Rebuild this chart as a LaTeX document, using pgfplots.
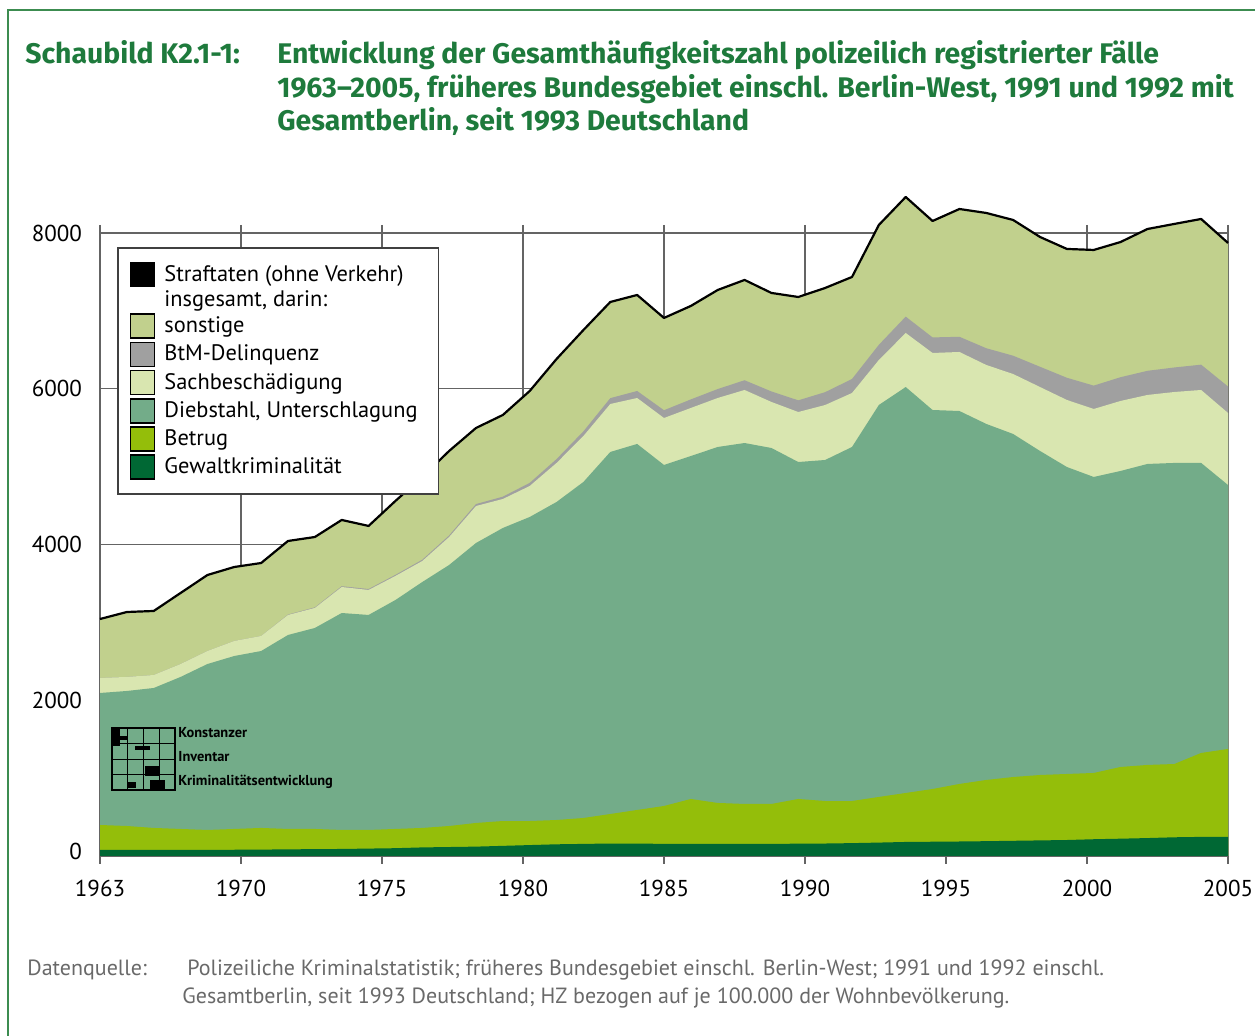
\documentclass[border=0pt]{standalone}
\usepackage{fontspec}
\setmainfont{PT Sans}
\newfontfamily\titlefont{Fira Sans}
\usepackage{pgfplots}
\usepackage{pgfplotstable}
\pgfplotsset{compat=1.18}

\definecolor{cSonst}{RGB}{193,208,141}
\definecolor{cBtm}{RGB}{160,160,160}
\definecolor{cSach}{RGB}{217,230,176}
\definecolor{cDieb}{RGB}{115,172,137}
\definecolor{cBetr}{RGB}{148,190,10}
\definecolor{cGew}{RGB}{0,104,52}
\definecolor{cTitle}{RGB}{30,122,60}
\definecolor{cFrame}{RGB}{60,140,80}
\definecolor{cGrid}{RGB}{100,100,100}
\definecolor{cFoot}{RGB}{105,105,105}

% cumulative upper boundaries of the stacked areas (HZ)
\pgfplotstableread{
year total btm sach dieb betrug gewalt
1963 3043 2286 2286 2093 398 80
1964 3133 2299 2299 2119 385 80
1965 3146 2324 2324 2157 360 80
1966 3377 2465 2465 2299 347 80
1967 3608 2632 2632 2465 334 80
1968 3711 2761 2761 2568 347 80
1969 3762 2825 2825 2632 360 82
1970 4045 3100 3095 2838 347 85
1971 4096 3193 3185 2928 347 88
1972 4315 3464 3454 3120 334 90
1973 4238 3428 3416 3095 334 95
1974 4559 3610 3596 3287 347 100
1975 4867 3804 3788 3518 360 110
1976 5201 4116 4096 3737 385 115
1977 5496 4519 4494 4019 424 120
1978 5663 4614 4584 4212 449 130
1979 5971 4791 4751 4353 449 140
1980 6382 5097 5047 4546 462 150
1981 6754 5453 5393 4803 488 155
1982 7114 5879 5804 5188 539 160
1983 7204 5971 5881 5291 591 160
1984 6909 5724 5624 5021 642 155
1985 7063 5863 5753 5136 732 155
1986 7268 5996 5881 5252 681 155
1987 7397 6109 5984 5303 668 155
1988 7230 5965 5830 5239 668 155
1989 7178 5851 5701 5059 732 158
1990 7294 5956 5791 5085 706 160
1991 7435 6125 5945 5252 706 165
1992 8103 6564 6369 5791 758 172
1993 8462 6926 6716 6022 809 180
1994 8154 6659 6459 5727 860 183
1995 8308 6667 6472 5714 925 186
1996 8257 6520 6305 5548 976 190
1997 8167 6424 6189 5419 1014 195
1998 7949 6282 6022 5201 1040 200
1999 7795 6141 5856 4995 1053 205
2000 7782 6040 5740 4867 1066 215
2001 7884 6148 5843 4944 1143 222
2002 8051 6230 5920 5034 1169 230
2003 8116 6273 5958 5047 1181 240
2004 8180 6309 5984 5047 1323 245
2005 7872 6029 5689 4764 1374 245
}\datatable

\begin{document}
\begin{tikzpicture}
\path[use as bounding box] (0,0) rectangle (627.5pt,518pt);

\begin{axis}[
  at={(50pt,90pt)}, anchor=south west,
  scale only axis, width=564pt, height=311.5pt,
  xmin=1963, xmax=2005, ymin=0, ymax=8000,
  clip=false,
  axis line style={cGrid, line width=0.75pt},
  grid=major, major grid style={cGrid, line width=0.75pt},
  xtick={1963,1968.25,1973.5,1978.75,1984,1989.25,1994.5,1999.75,2005},
  xticklabels={1963,1970,1975,1980,1985,1990,1995,2000,2005},
  ytick={0,2000,4000,6000,8000},
  yticklabels={\raisebox{5pt}{0},2000,4000,6000,8000},
  tick align=outside, major tick length=4pt,
  xtick style={cGrid, line width=0.75pt},
  ytick style={draw=none},
  tick label style={font=\fontsize{11.5}{13}\selectfont},
  xticklabel style={yshift=-4.5pt},
  yticklabel style={xshift=-1.5pt},
  legend cell align=left,
  legend image code/.code={\fill[#1] (0pt,-6pt) rectangle (12pt,6pt);},
  legend style={at={(0.0151,0.9775)}, anchor=north west,
    draw=black!75, line width=0.8pt, fill=white,
    font=\fontsize{11.2}{13}\selectfont,
    inner xsep=6pt, inner ysep=7pt, row sep=1.3pt,
    nodes={inner ysep=0.5pt, inner xsep=4.5pt}},
]
\addplot[fill=cSonst, draw=none, forget plot] table[x=year,y=total]{\datatable} \closedcycle;
\addplot[fill=cBtm, draw=none, forget plot] table[x=year,y=btm]{\datatable} \closedcycle;
\addplot[fill=cSach, draw=none, forget plot] table[x=year,y=sach]{\datatable} \closedcycle;
\addplot[fill=cDieb, draw=none, forget plot] table[x=year,y=dieb]{\datatable} \closedcycle;
\addplot[fill=cBetr, draw=none, forget plot] table[x=year,y=betrug]{\datatable} \closedcycle;
\addplot[fill=cGew, draw=none, forget plot] table[x=year,y=gewalt]{\datatable} \closedcycle;
\addplot[black, line width=1.1pt, line join=round, forget plot] table[x=year,y=total]{\datatable};

\addlegendimage{fill=black}
\addlegendentry{Straftaten (ohne Verkehr)}
\addlegendimage{empty legend}
\addlegendentry{insgesamt, darin:}
\addlegendimage{fill=cSonst}
\addlegendentry{sonstige}
\addlegendimage{fill=cBtm}
\addlegendentry{BtM-Delinquenz}
\addlegendimage{fill=cSach}
\addlegendentry{Sachbeschädigung}
\addlegendimage{fill=cDieb}
\addlegendentry{Diebstahl, Unterschlagung}
\addlegendimage{fill=cBetr}
\addlegendentry{Betrug}
\addlegendimage{fill=cGew}
\addlegendentry{Gewaltkriminalität}
\end{axis}

\begin{scope}[x=0.5pt,y=0.5pt]
% frame
\draw[cFrame, line width=1.1pt] (8,0) -- (8,1026) -- (1255,1026);
% title
\node[anchor=base west, inner sep=0pt, font=\titlefont\fontsize{14.2}{16}\selectfont\bfseries, text=cTitle] at (25,1036-64) {Schaubild K2.1-1:};
\node[anchor=base west, inner sep=0pt, font=\titlefont\fontsize{14.2}{16}\selectfont\bfseries, text=cTitle] at (277,1036-64) {Entwicklung der Gesamthäufigkeitszahl polizeilich registrierter Fälle};
\node[anchor=base west, inner sep=0pt, font=\titlefont\fontsize{14.2}{16}\selectfont\bfseries, text=cTitle] at (277,1036-98) {1963–2005, früheres Bundesgebiet einschl. Berlin-West, 1991 und 1992 mit};
\node[anchor=base west, inner sep=0pt, font=\titlefont\fontsize{14.2}{16}\selectfont\bfseries, text=cTitle] at (277,1036-131) {Gesamtberlin, seit 1993 Deutschland};
% footer
\node[anchor=base west, inner sep=0pt, font=\fontsize{11}{13}\selectfont, text=cFoot] at (27,1036-976) {Datenquelle:};
\node[anchor=base west, inner sep=0pt, font=\fontsize{11}{13}\selectfont, text=cFoot] at (187,1036-976) {Polizeiliche Kriminalstatistik; früheres Bundesgebiet einschl. Berlin-West; 1991 und 1992 einschl.};
\node[anchor=base west, inner sep=0pt, font=\fontsize{11}{13}\selectfont, text=cFoot] at (182,1036-1004) {Gesamtberlin, seit 1993 Deutschland; HZ bezogen auf je 100.000 der Wohnbevölkerung.};
% logo
\draw[black, line width=0.6pt] (112,246) rectangle (175,308);
\foreach \i in {1,2,3} {
  \draw[black, line width=0.4pt] (112+15.75*\i,246) -- (112+15.75*\i,308);
  \draw[black, line width=0.4pt] (112,246+15.5*\i) -- (175,246+15.5*\i);
}
\fill[black] (113,290) rectangle (120,307);
\fill[black] (120,296) rectangle (127,300);
\fill[black] (135,286) rectangle (150,290);
\fill[black] (145,260) rectangle (160,270);
\fill[black] (150,247) rectangle (165,256);
\fill[black] (128,248) rectangle (136,254);
\node[anchor=west, inner sep=0pt, font=\fontsize{7.2}{8}\selectfont\bfseries] at (178,303) {Konstanzer};
\node[anchor=west, inner sep=0pt, font=\fontsize{7.2}{8}\selectfont\bfseries] at (178,279) {Inventar};
\node[anchor=west, inner sep=0pt, font=\fontsize{7.2}{8}\selectfont\bfseries] at (178,254) {Kriminalitätsentwicklung};
\end{scope}
\end{tikzpicture}
\end{document}
